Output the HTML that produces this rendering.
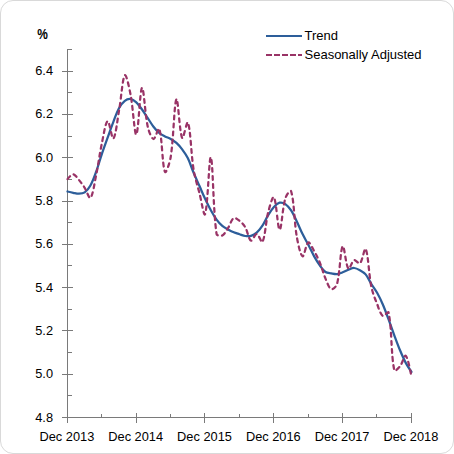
<!DOCTYPE html>
<html><head><meta charset="utf-8"><style>
html,body{margin:0;padding:0;background:#fff;}
.frame{position:absolute;left:0;top:0;width:454px;height:454px;box-sizing:border-box;border:1px solid #d9d9d9;border-radius:13px;background:#fff;}
svg{position:absolute;left:0;top:0;}
text{font-family:"Liberation Sans",sans-serif;fill:#000;}
</style></head><body>
<div class="frame"></div>
<svg width="454" height="454" viewBox="0 0 454 454">
<g stroke="#7A7A7A" stroke-width="1" fill="none">
<line x1="67.5" y1="49" x2="67.5" y2="418"/>
<line x1="67" y1="417.5" x2="412" y2="417.5"/>
<line x1="62" y1="417.5" x2="73" y2="417.5"/><line x1="67" y1="395.5" x2="72" y2="395.5"/><line x1="62" y1="374.5" x2="73" y2="374.5"/><line x1="67" y1="352.5" x2="72" y2="352.5"/><line x1="62" y1="330.5" x2="73" y2="330.5"/><line x1="67" y1="309.5" x2="72" y2="309.5"/><line x1="62" y1="287.5" x2="73" y2="287.5"/><line x1="67" y1="265.5" x2="72" y2="265.5"/><line x1="62" y1="244.5" x2="73" y2="244.5"/><line x1="67" y1="222.5" x2="72" y2="222.5"/><line x1="62" y1="201.5" x2="73" y2="201.5"/><line x1="67" y1="179.5" x2="72" y2="179.5"/><line x1="62" y1="157.5" x2="73" y2="157.5"/><line x1="67" y1="136.5" x2="72" y2="136.5"/><line x1="62" y1="114.5" x2="73" y2="114.5"/><line x1="67" y1="92.5" x2="72" y2="92.5"/><line x1="62" y1="71.5" x2="73" y2="71.5"/><line x1="67" y1="49.5" x2="72" y2="49.5"/><line x1="67" y1="49.5" x2="72" y2="49.5"/><line x1="67.5" y1="413" x2="67.5" y2="423"/><line x1="136.5" y1="413" x2="136.5" y2="423"/><line x1="204.5" y1="413" x2="204.5" y2="423"/><line x1="273.5" y1="413" x2="273.5" y2="423"/><line x1="342.5" y1="413" x2="342.5" y2="423"/><line x1="411.5" y1="413" x2="411.5" y2="423"/><line x1="101.5" y1="414" x2="101.5" y2="417"/><line x1="170.5" y1="414" x2="170.5" y2="417"/><line x1="239.5" y1="414" x2="239.5" y2="417"/><line x1="308.5" y1="414" x2="308.5" y2="417"/><line x1="376.5" y1="414" x2="376.5" y2="417"/>
</g>
<path d="M67.50,191.50 C67.50,191.50 71.31,192.43 73.23,192.80 C75.13,193.16 77.07,193.78 78.97,193.70 C80.89,193.62 83.18,193.39 84.70,192.30 C87.00,190.66 89.01,188.06 90.43,185.50 C92.83,181.20 94.47,176.38 96.17,171.70 C98.30,165.81 99.90,159.74 101.90,153.80 C103.73,148.37 105.70,142.99 107.63,137.60 C109.52,132.33 111.34,127.02 113.37,121.80 C115.17,117.16 116.73,112.33 119.10,108.00 C120.56,105.33 122.52,102.61 124.83,100.80 C126.34,99.61 128.75,98.75 130.57,99.00 C132.58,99.28 134.69,100.92 136.30,102.40 C138.51,104.42 140.24,107.05 142.03,109.50 C144.06,112.28 145.86,115.23 147.77,118.10 C149.68,120.97 151.40,123.98 153.50,126.70 C155.23,128.94 157.09,131.19 159.23,133.00 C160.91,134.42 162.99,135.39 164.97,136.40 C166.82,137.35 168.90,137.88 170.70,138.90 C172.72,140.04 174.72,141.34 176.43,142.90 C178.54,144.81 180.46,147.01 182.17,149.30 C184.28,152.14 186.35,155.12 187.90,158.30 C190.17,162.95 191.63,168.00 193.63,172.80 C195.46,177.17 197.46,181.47 199.37,185.80 C201.28,190.13 203.09,194.51 205.10,198.80 C206.92,202.68 208.77,206.55 210.83,210.30 C212.59,213.49 214.42,216.68 216.57,219.60 C218.24,221.88 220.16,224.07 222.30,225.90 C223.99,227.34 226.08,228.31 228.03,229.40 C229.90,230.44 231.80,231.48 233.77,232.30 C235.62,233.08 237.58,233.58 239.50,234.20 C241.41,234.82 243.28,235.71 245.23,236.00 C247.10,236.28 249.18,236.41 250.97,235.90 C253.01,235.31 255.09,234.13 256.70,232.70 C258.91,230.73 260.79,228.21 262.43,225.70 C264.61,222.38 266.09,218.60 268.17,215.20 C269.92,212.33 271.66,209.34 273.90,206.90 C275.48,205.18 277.55,203.21 279.63,202.70 C281.37,202.28 283.80,203.05 285.37,204.10 C287.62,205.62 289.55,208.05 291.10,210.40 C293.37,213.85 295.02,217.75 296.83,221.50 C298.84,225.65 300.52,229.97 302.57,234.10 C304.35,237.70 306.44,241.14 308.30,244.70 C310.27,248.47 311.97,252.39 314.03,256.10 C315.79,259.25 317.66,262.38 319.77,265.30 C321.48,267.68 323.21,270.38 325.50,272.00 C327.03,273.08 329.30,273.05 331.23,273.40 C333.12,273.75 335.09,274.28 336.97,274.10 C338.92,273.91 340.83,273.02 342.70,272.30 C344.66,271.55 346.47,270.44 348.43,269.70 C350.30,269.00 352.28,267.92 354.17,268.00 C356.10,268.08 358.13,269.21 359.90,270.20 C361.95,271.34 364.15,272.61 365.63,274.40 C367.97,277.21 369.40,280.84 371.37,284.00 C373.22,286.97 375.39,289.75 377.10,292.80 C379.22,296.58 381.12,300.52 382.83,304.50 C384.94,309.38 386.71,314.41 388.57,319.40 C390.53,324.68 392.34,330.02 394.30,335.30 C396.16,340.32 397.98,345.36 400.03,350.30 C401.80,354.56 403.62,358.83 405.77,362.90 C407.44,366.06 411.50,372.00 411.50,372.00" fill="none" stroke="#2D5E9A" stroke-width="2.25" stroke-linejoin="round" stroke-linecap="round"/>
<path d="M67.50,179.10 C67.50,179.10 71.40,174.16 73.23,174.30 C75.22,174.46 77.23,177.95 78.97,180.00 C81.05,182.45 82.96,185.09 84.70,187.80 C86.78,191.05 89.17,199.31 90.43,197.90 C93.00,195.04 94.56,182.70 96.17,175.00 C98.38,164.43 99.65,153.66 101.90,143.10 C103.48,135.69 105.52,121.95 107.63,121.10 C109.34,120.42 111.88,139.90 113.37,138.50 C115.70,136.30 117.39,119.74 119.10,110.30 C121.21,98.64 122.40,78.51 124.83,75.20 C126.22,73.31 129.29,88.06 130.57,94.70 C133.11,107.86 134.54,135.66 136.30,134.60 C138.36,133.36 139.95,89.24 142.03,87.80 C143.77,86.60 144.93,114.01 147.77,126.70 C148.75,131.08 151.45,138.62 153.50,139.00 C155.27,139.32 158.42,126.47 159.23,128.80 C162.25,137.44 162.17,165.02 164.97,171.90 C165.99,174.42 169.88,162.22 170.70,157.00 C173.70,137.99 174.15,102.98 176.43,99.20 C177.97,96.65 179.48,132.54 182.17,138.00 C183.30,140.30 186.92,119.77 187.90,122.50 C190.74,130.40 191.08,154.22 193.63,169.90 C194.90,177.65 197.39,185.18 199.37,192.80 C201.22,199.95 204.03,217.50 205.10,214.20 C207.85,205.67 209.20,154.49 210.83,157.30 C213.03,161.09 213.02,209.80 216.57,234.00 C216.84,235.86 220.83,236.27 222.30,235.50 C224.65,234.27 226.31,230.62 228.03,228.00 C230.13,224.82 231.31,219.64 233.77,218.10 C235.13,217.24 237.88,219.51 239.50,220.80 C241.70,222.55 243.82,224.75 245.23,227.20 C247.64,231.35 248.58,239.18 250.97,240.60 C252.40,241.45 254.89,233.80 256.70,234.00 C258.72,234.23 261.50,243.67 262.43,241.90 C265.32,236.47 265.69,222.07 268.17,212.40 C269.51,207.17 272.64,195.30 273.90,197.20 C276.46,201.04 277.69,229.43 279.63,229.60 C281.52,229.76 282.39,208.17 285.37,198.20 C286.21,195.37 290.47,189.08 291.10,191.20 C294.29,201.98 294.18,221.82 296.83,236.90 C298.00,243.52 300.37,255.23 302.57,256.30 C304.19,257.09 306.03,243.57 308.30,242.50 C309.85,241.77 312.34,247.97 314.03,250.90 C316.17,254.60 318.13,258.45 319.77,262.40 C321.95,267.68 323.25,273.35 325.50,278.60 C327.08,282.28 328.89,288.06 331.23,289.20 C332.71,289.92 336.34,286.57 336.97,284.20 C340.16,272.24 340.32,249.42 342.70,246.20 C344.14,244.25 345.79,265.49 348.43,268.70 C349.61,270.13 351.84,261.18 354.17,260.10 C355.66,259.41 358.76,264.51 359.90,263.40 C362.58,260.78 364.53,246.64 365.63,248.90 C368.35,254.47 368.77,274.40 371.37,286.90 C372.59,292.77 374.90,298.42 377.10,304.00 C378.72,308.12 380.29,314.12 382.83,316.00 C384.12,316.95 388.17,310.62 388.57,312.50 C391.99,328.72 390.89,354.29 394.30,370.30 C394.71,372.23 398.62,368.08 400.03,366.30 C402.45,363.25 404.42,354.54 405.77,355.80 C408.24,358.11 411.50,377.00 411.50,377.00" fill="none" stroke="#993366" stroke-width="2.25" stroke-dasharray="3.8,4.2" stroke-linejoin="round" stroke-linecap="round"/>
<g font-size="12.8">
<text x="53" y="421.50" text-anchor="end">4.8</text><text x="53" y="378.20" text-anchor="end">5.0</text><text x="53" y="334.91" text-anchor="end">5.2</text><text x="53" y="291.62" text-anchor="end">5.4</text><text x="53" y="248.32" text-anchor="end">5.6</text><text x="53" y="205.03" text-anchor="end">5.8</text><text x="53" y="161.74" text-anchor="end">6.0</text><text x="53" y="118.44" text-anchor="end">6.2</text><text x="53" y="75.15" text-anchor="end">6.4</text>
<text x="66.90" y="441" text-anchor="middle">Dec 2013</text><text x="135.70" y="441" text-anchor="middle">Dec 2014</text><text x="204.50" y="441" text-anchor="middle">Dec 2015</text><text x="273.30" y="441" text-anchor="middle">Dec 2016</text><text x="342.10" y="441" text-anchor="middle">Dec 2017</text><text x="410.90" y="441" text-anchor="middle">Dec 2018</text>
</g>
<text x="37.2" y="39.2" font-size="14.5" font-weight="bold" textLength="10.6" lengthAdjust="spacingAndGlyphs">%</text>
<line x1="266" y1="36" x2="302" y2="36" stroke="#2D5E9A" stroke-width="2"/>
<line x1="266" y1="55" x2="302" y2="55" stroke="#993366" stroke-width="2" stroke-dasharray="6,2"/>
<g font-size="13">
<text x="304.5" y="40">Trend</text>
<text x="304.5" y="59">Seasonally Adjusted</text>
</g>
</svg>
</body></html>
